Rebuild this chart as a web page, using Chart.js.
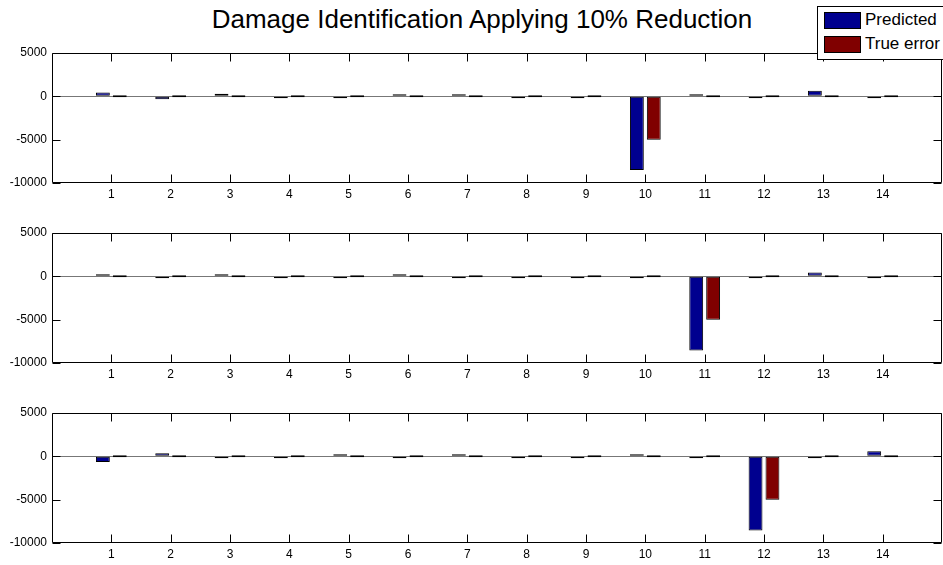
<!DOCTYPE html>
<html>
<head>
<meta charset="utf-8">
<script src="https://cdn.jsdelivr.net/npm/chart.js@4.4.1/dist/chart.umd.min.js"></script>
<style>
body { margin:0; width:943px; height:565px; overflow:hidden; position:relative; background:#fff; font-family:"Liberation Sans", Arial, sans-serif; }
#title { position:absolute; left:0; width:964px; top:4px; text-align:center; font-size:26px; color:#000; white-space:nowrap; }
.panel { position:absolute; left:0; width:946px; height:170px; }
#legend { position:absolute; left:817px; top:6px; width:140px; height:54px; box-sizing:border-box; border:1px solid #000; background:#fff; z-index:2; font-size:17px; color:#000; }
.item { position:absolute; left:6px; height:17px; }
.sw { position:absolute; left:0; top:0; width:37px; height:17px; box-sizing:border-box; border:1px solid #000; }
.lbl { position:absolute; left:41px; top:-2px; white-space:nowrap; line-height:20px; }
</style>
</head>
<body>
<div id="title">Damage Identification Applying 10% Reduction</div>
<div id="legend"></div>
<div class="panel" style="top:39px"><canvas id="p1" width="946" height="170"></canvas></div>
<div class="panel" style="top:219px"><canvas id="p2" width="946" height="170"></canvas></div>
<div class="panel" style="top:399px"><canvas id="p3" width="946" height="170"></canvas></div>
<script>
// element numbers along the x axis
const categories = ['1','2','3','4','5','6','7','8','9','10','11','12','13','14'];
const seriesNames = ['Predicted', 'True error'];
const seriesColors = ['#00008f', '#800000'];
const yTicks = [-10000, -5000, 0, 5000];

// damage at element 10
const predicted1 = [450, -350, 300, -80, -230, 250, 250, -200, -60, -8500, 150, -200, 650, -200];
const trueError1 = [0, 0, 0, 0, 0, 0, 0, 0, 0, -5000, 0, 0, 0, 0];
// damage at element 11
const predicted2 = [250, -120, 100, -50, -230, 100, -30, -60, -50, -70, -8550, -200, 450, -200];
const trueError2 = [0, 0, 0, 0, 0, 0, 0, 0, 0, 0, -5000, 0, 0, 0];
// damage at element 12
const predicted3 = [-650, 350, -50, -100, 100, -100, 100, -50, -50, 100, -200, -8550, -230, 600];
const trueError3 = [0, 0, 0, 0, 0, 0, 0, 0, 0, 0, 0, -5000, 0, 0];

// x runs 0..15, so put an empty slot on each side
const xLabels = [''].concat(categories, ['']);
const pad = arr => [null].concat(arr, [null]);

const font = { family: '"Liberation Sans", Arial, sans-serif', size: 12 };

// box round the axes and inward ticks, like matlab
const matlabAxes = {
  id: 'matlabAxes',
  afterDraw(chart) {
    const ctx = chart.ctx, a = chart.chartArea, x = chart.scales.x, y = chart.scales.y;
    const len = 8;
    ctx.save();
    ctx.strokeStyle = '#000';
    ctx.lineWidth = 1;
    ctx.beginPath();
    const L = Math.round(a.left) + 0.5, R = Math.round(a.right) - 0.5;
    const T = Math.round(a.top) + 0.5, B = Math.round(a.bottom) - 0.5;
    ctx.rect(L, T, R - L, B - T);
    categories.forEach((c, i) => {
      const px = Math.round(x.getPixelForValue(i + 1)) + 0.5;
      ctx.moveTo(px, T); ctx.lineTo(px, T + len);
      ctx.moveTo(px, B); ctx.lineTo(px, B - len);
    });
    yTicks.forEach(v => {
      const py = Math.round(y.getPixelForValue(v)) + 0.5;
      ctx.moveTo(L, py); ctx.lineTo(L + len, py);
      ctx.moveTo(R, py); ctx.lineTo(R - len, py);
    });
    ctx.stroke();
    ctx.restore();
  }
};

function makePanel(id, pred, truth) {
  const series = [pred, truth];
  new Chart(document.getElementById(id), {
    type: 'bar',
    data: {
      labels: xLabels,
      datasets: series.map((s, i) => ({
        label: seriesNames[i],
        data: pad(s),
        backgroundColor: seriesColors[i],
        borderColor: '#000',
        borderWidth: 1,
        borderSkipped: false,
        minBarLength: 2
      }))
    },
    options: {
      responsive: false,
      animation: false,
      layout: { padding: { top: 14, left: 0, right: 2, bottom: 0 } },
      datasets: { bar: { categoryPercentage: 0.57, barPercentage: 0.82 } },
      plugins: { legend: { display: false }, tooltip: { enabled: false } },
      scales: {
        x: {
          offset: false,
          grid: { display: false, drawTicks: false },
          border: { display: false },
          ticks: { autoSkip: false, maxRotation: 0, padding: 4, color: '#000', font: font },
          afterFit: s => { s.height = 26; }
        },
        y: {
          min: -10000, max: 5000,
          afterBuildTicks: s => { s.ticks = yTicks.map(v => ({ value: v })); },
          ticks: { padding: 5, color: '#000', font: font, callback: v => String(v) },
          grid: { drawTicks: false, color: c => (c.tick && c.tick.value === 0) ? '#777' : 'rgba(0,0,0,0)' },
          border: { display: false },
          afterFit: s => { s.width = 52; }
        }
      }
    },
    plugins: [matlabAxes]
  });
}

makePanel('p1', predicted1, trueError1);
makePanel('p2', predicted2, trueError2);
makePanel('p3', predicted3, trueError3);

// legend box
const leg = document.getElementById('legend');
seriesNames.forEach((n, i) => {
  const it = document.createElement('div');
  it.className = 'item';
  it.style.top = (5 + i * 24) + 'px';
  it.innerHTML = '<div class="sw" style="background:' + seriesColors[i] + '"></div><div class="lbl">' + n + '</div>';
  leg.appendChild(it);
});
</script>
</body>
</html>
